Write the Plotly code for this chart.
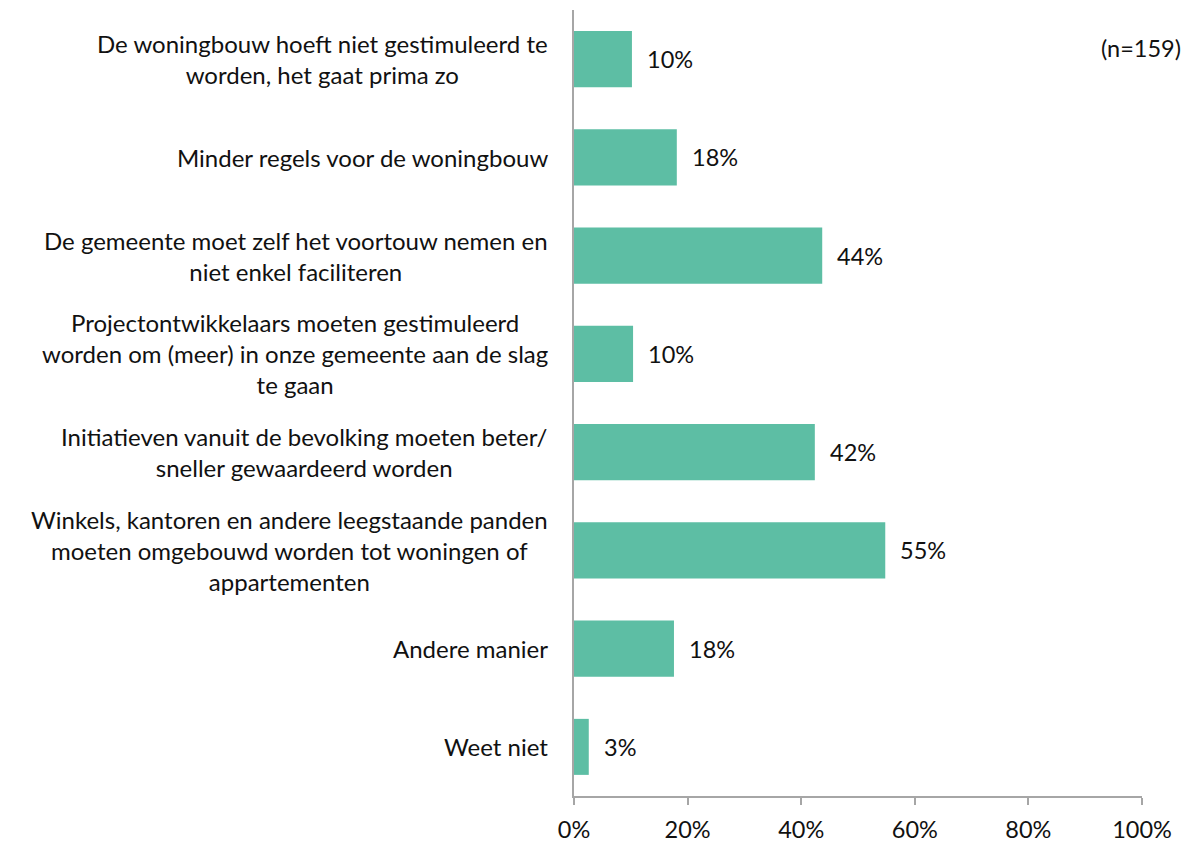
import plotly.graph_objects as go

categories = [
    "De woningbouw hoeft niet gestimuleerd te<br>worden, het gaat prima zo",
    "Minder regels voor de woningbouw",
    "De gemeente moet zelf het voortouw nemen en<br>niet enkel faciliteren",
    "Projectontwikkelaars moeten gestimuleerd<br>worden om (meer) in onze gemeente aan de slag<br>te gaan",
    "Initiatieven vanuit de bevolking moeten beter/<br>sneller gewaardeerd worden",
    "Winkels, kantoren en andere leegstaande panden<br>moeten omgebouwd worden tot woningen of<br>appartementen",
    "Andere manier",
    "Weet niet",
]
values = [10.2, 18.1, 43.7, 10.4, 42.4, 54.8, 17.6, 2.6]
labels = ["10%", "18%", "44%", "10%", "42%", "55%", "18%", "3%"]
x_ticks = [0, 20, 40, 60, 80, 100]
x_tick_labels = ["0%", "20%", "40%", "60%", "80%", "100%"]
note = "(n=159)"

FONT = "Lato"
FS = 24
TXT = "#111111"
ids = list(range(len(categories)))

fig = go.Figure(go.Bar(
    x=values, y=ids, orientation="h",
    marker=dict(color="#5DBEA4", line=dict(width=0)),
    hoverinfo="skip",
))

annotations = []
for i, (cat, v, lab) in enumerate(zip(categories, values, labels)):
    annotations.append(dict(
        x=0, y=i, xref="paper", yref="y", text=cat, showarrow=False,
        xanchor="right", yanchor="middle", align="center", xshift=-24,
        font=dict(family=FONT, size=FS, color=TXT),
    ))
    annotations.append(dict(
        x=v, y=i, xref="x", yref="y", text=lab, showarrow=False,
        xanchor="left", yanchor="middle", xshift=13,
        font=dict(family=FONT, size=FS - 0.5, color=TXT),
    ))
annotations.append(dict(
    x=1, y=0.9517, xref="paper", yref="paper", text=note, showarrow=False,
    xanchor="right", yanchor="middle", xshift=41,
    font=dict(family=FONT, size=FS - 0.5, color=TXT),
))

# page body has an 8px default margin; figure sized to fit the window
fig.update_layout(
    width=1183, height=836,
    margin=dict(l=566, r=49, t=2, b=48),
    paper_bgcolor="white", plot_bgcolor="white",
    showlegend=False,
    bargap=0.43,
    font=dict(family=FONT, size=FS, color=TXT),
    annotations=annotations,
    xaxis=dict(
        range=[0, 100], tickvals=x_ticks, ticktext=x_tick_labels,
        showgrid=False, zeroline=False,
        showline=True, linecolor="#A6A6A6", linewidth=2,
        ticks="outside", ticklen=7, tickcolor="#A6A6A6", tickwidth=2,
        ticklabelstandoff=5,
        tickfont=dict(family=FONT, size=FS - 0.5, color=TXT),
        fixedrange=True,
    ),
    yaxis=dict(
        range=[len(categories) - 0.5, -0.5],
        showticklabels=False, showgrid=False, zeroline=False,
        showline=True, linecolor="#A6A6A6", linewidth=2,
        ticks="", fixedrange=True,
    ),
)

fig.write_html("out.html")
